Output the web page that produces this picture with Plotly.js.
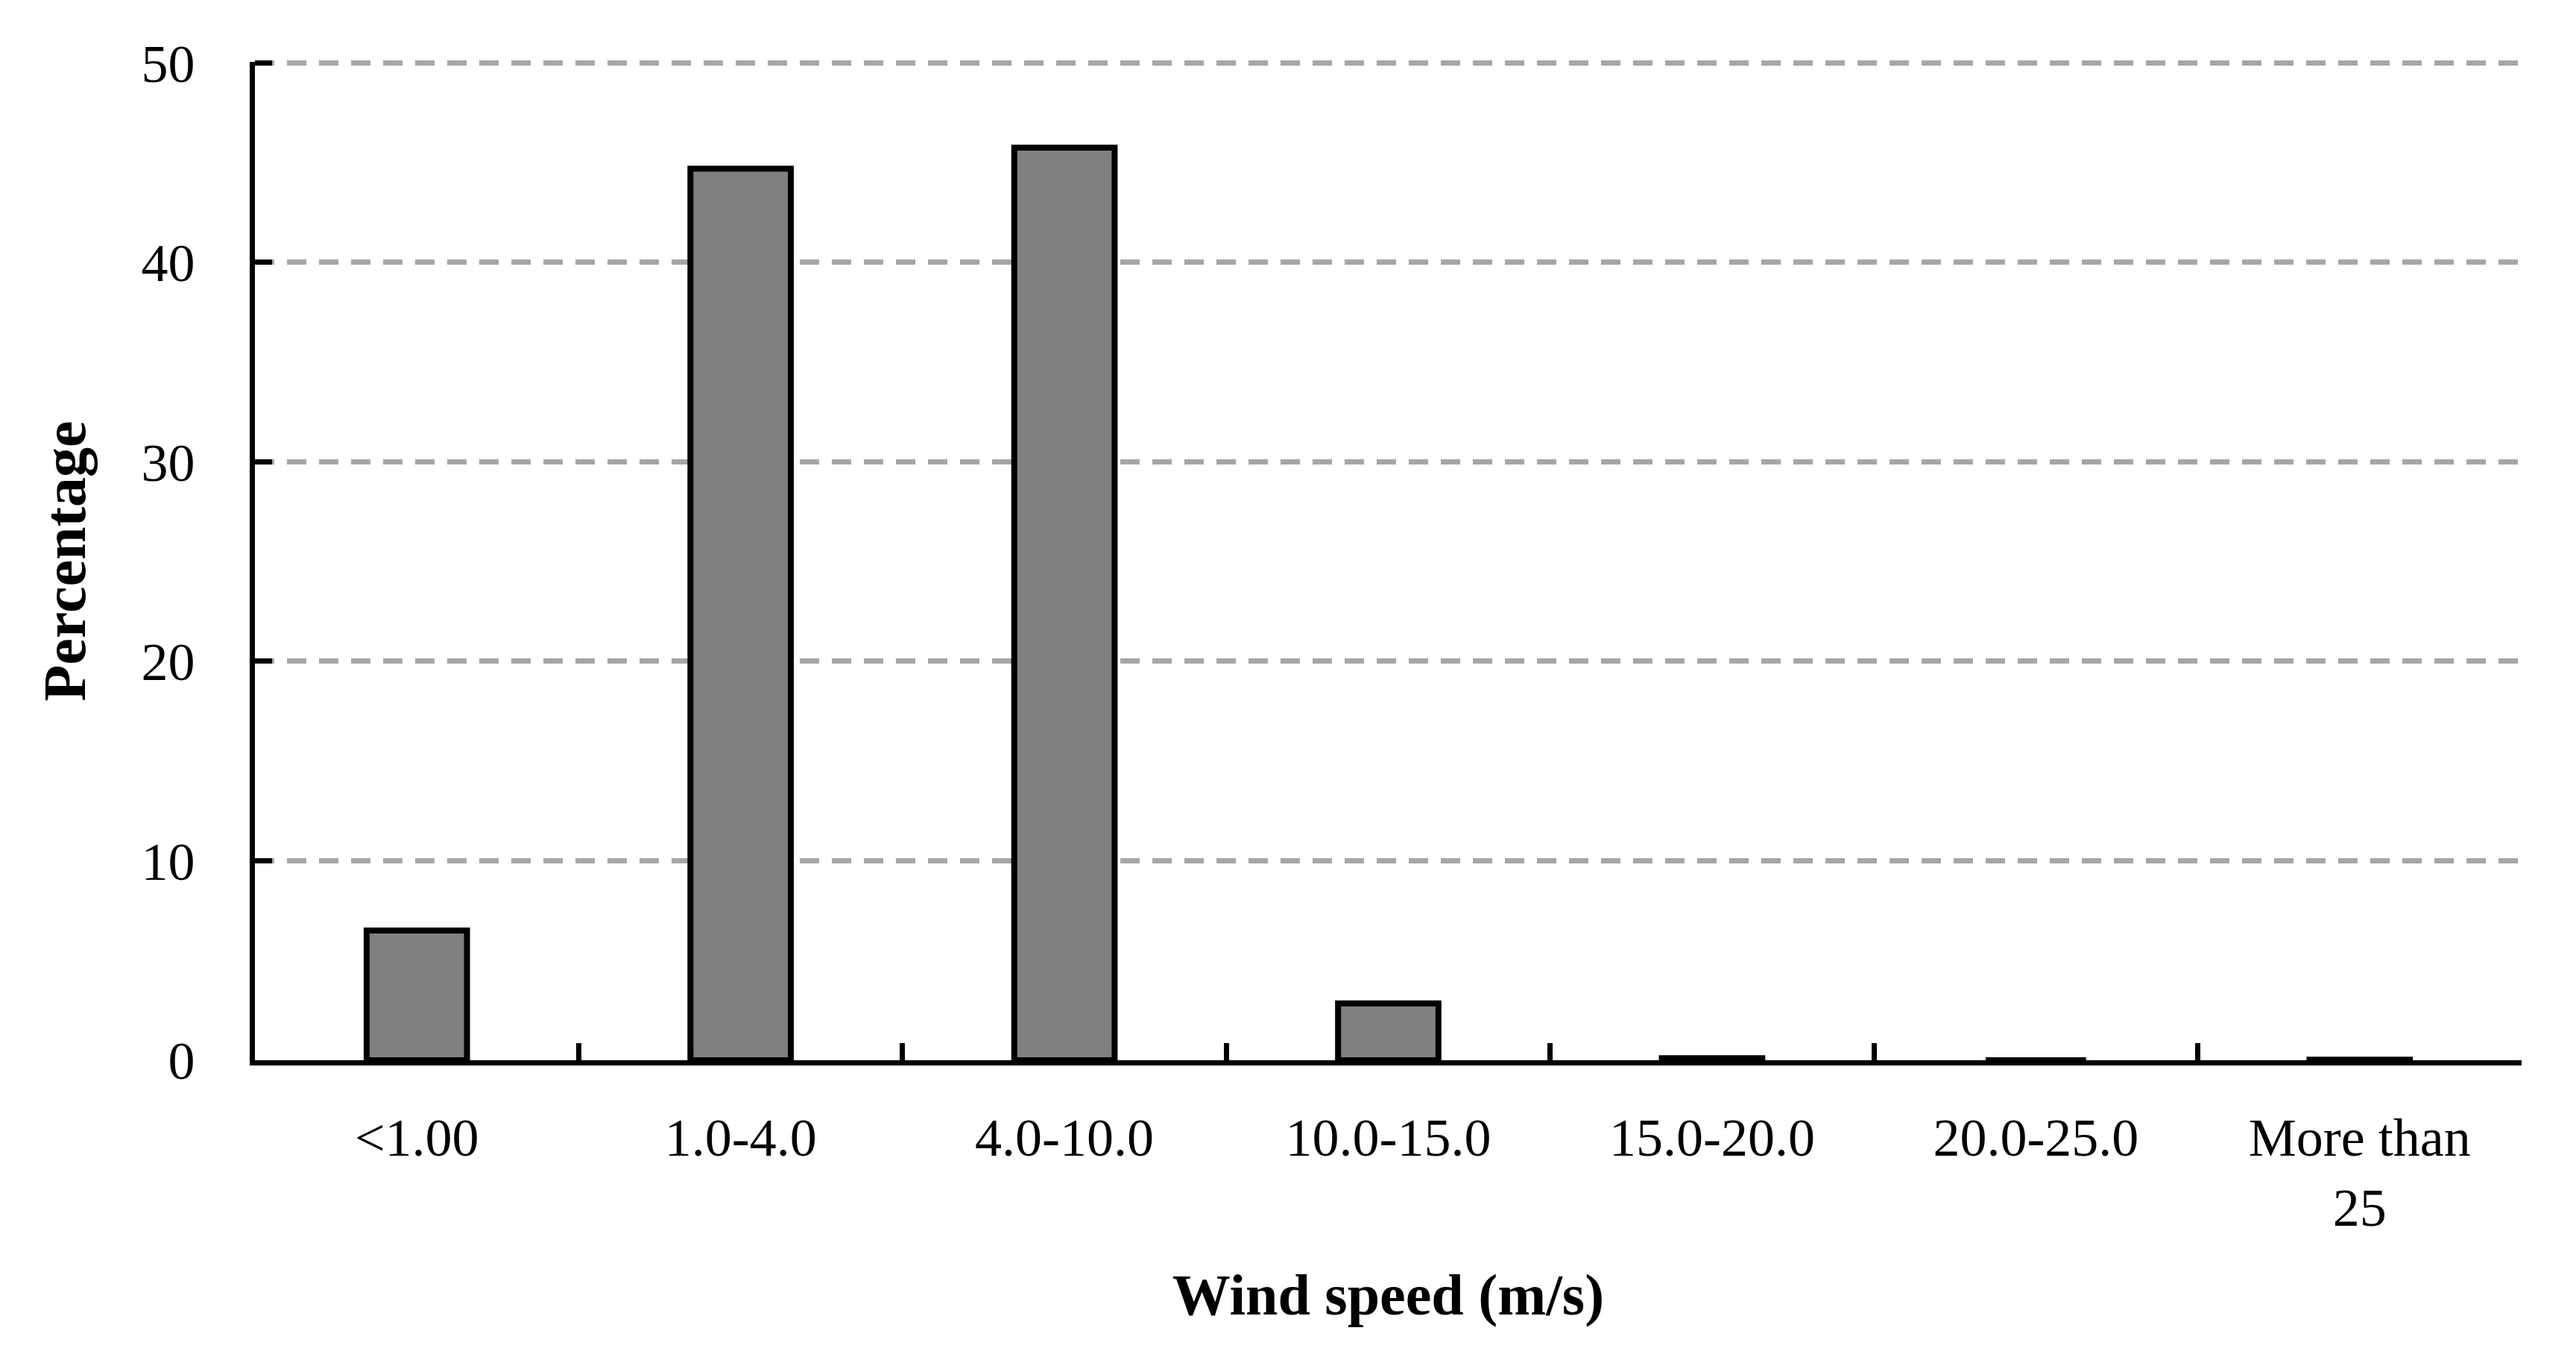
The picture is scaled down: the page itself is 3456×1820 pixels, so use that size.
<!DOCTYPE html>
<html>
<head>
<meta charset="utf-8">
<script src="https://cdn.plot.ly/plotly-3.0.1.min.js"></script>
<style>html,body{margin:0;padding:0;background:#fff;}</style>
</head>
<body>
<div id="chart" style="width:3456px;height:1820px;"></div>
<script>
const categories = ["<1.00", "1.0-4.0", "4.0-10.0", "10.0-15.0", "15.0-20.0", "20.0-25.0", "More than<br>25"];
const percentages = [6.5, 44.7, 45.75, 2.85, 0.1, 0, 0.03];
const yTickValues = [0, 10, 20, 30, 40, 50];

const fontFamily = '"Liberation Serif", "Times New Roman", serif';

const trace = {
  type: 'bar',
  x: categories,
  y: percentages,
  marker: { color: '#808080', line: { color: '#000000', width: 8 } },
  hoverinfo: 'x+y'
};

const layout = {
  width: 3456,
  height: 1820,
  margin: { l: 342, r: 73, t: 83, b: 398, pad: 0 },
  paper_bgcolor: '#ffffff',
  plot_bgcolor: '#ffffff',
  showlegend: false,
  bargap: 0.69,
  font: { family: fontFamily, color: '#000000', size: 72 },
  xaxis: {
    type: 'category',
    range: [-0.5, 6.5],
    tickson: 'boundaries',
    ticks: 'inside',
    ticklen: 23,
    tickwidth: 7,
    tickcolor: '#000000',
    showline: true,
    linewidth: 7,
    linecolor: '#000000',
    showgrid: false,
    zeroline: false,
    tickfont: { family: fontFamily, size: 72, color: '#000000' },
    ticklabelstandoff: 35,
    title: { text: '<b>Wind speed (m/s)</b>', font: { family: fontFamily, size: 78, color: '#000000' }, standoff: 52 }
  },
  yaxis: {
    range: [0, 50.05],
    tickvals: yTickValues,
    ticktext: yTickValues.map(String),
    ticks: 'inside',
    ticklen: 23,
    tickwidth: 7,
    tickcolor: '#000000',
    showline: true,
    linewidth: 7,
    linecolor: '#000000',
    showgrid: true,
    gridcolor: '#a6a6a6',
    gridwidth: 7,
    griddash: '26px,17px',
    zeroline: false,
    tickfont: { family: fontFamily, size: 72, color: '#000000' },
    ticklabelstandoff: 59,
    title: { text: '<b>Percentage</b>', font: { family: fontFamily, size: 80, color: '#000000' }, standoff: 51 }
  }
};

Plotly.newPlot('chart', [trace], layout, { displayModeBar: false, staticPlot: true });
</script>
</body>
</html>
